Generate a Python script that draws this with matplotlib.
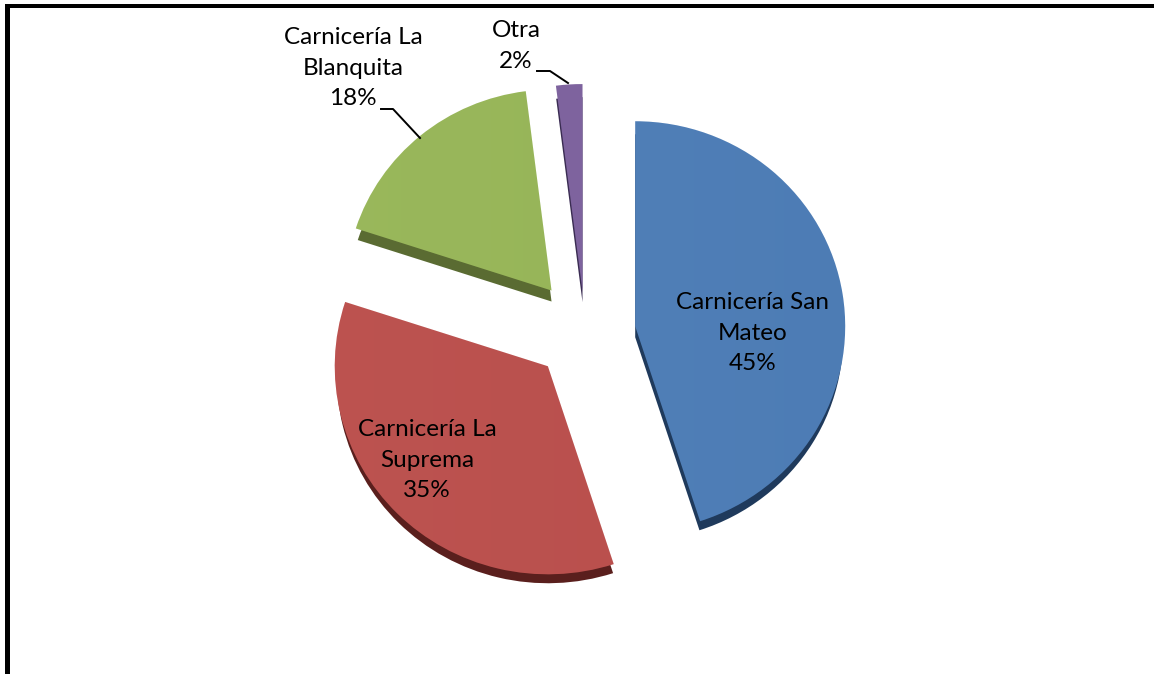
import matplotlib
matplotlib.use("Agg")
import matplotlib.pyplot as plt
import numpy as np

# slices go clockwise from 12 o'clock
categories = ["Carnicería San\nMateo", "Carnicería La\nSuprema", "Carnicería La\nBlanquita", "Otra"]
values = [45, 35, 18, 2]
explode = [0.242, 0.25, 0.25, 0.19]
colors = ["#4F81BD", "#C0504D", "#9BBB59", "#8064A2"]
side_colors = ["#1F3A5C", "#5A1F1D", "#5A6B32", "#3A2C52"]

W, H = 1154, 674
cx, cy = 585, 330      # pie centre in pixels
rx, ry = 210, 205      # pie is slightly squashed
depth = 11 / ry

# the original has perspective, so front slices look bigger than back ones
persp = [1.0, 1.015, 0.98, 1.01]
nudge = [-4 / ry, 0, 0, 0]

plt.rcParams["font.family"] = ["Lato", "DejaVu Sans"]

fig = plt.figure(figsize=(W / 100, H / 100), dpi=100, facecolor="white")
ax = fig.add_axes([0, 0, 1, 1])

# darker copy shifted down gives the 3d side
sides, _ = ax.pie(values, explode=explode, colors=side_colors, startangle=90, counterclock=False,
                  center=(0, -depth), radius=1, wedgeprops={"linewidth": 0})
wedges, _ = ax.pie(values, explode=explode, colors=colors, startangle=90, counterclock=False,
                   center=(0, 0), radius=1, wedgeprops={"linewidth": 0})
for w, s, p, n in zip(wedges, sides, persp, nudge):
    w.set_radius(p)
    s.set_radius(p * 0.99)
    w.set_center((w.center[0], w.center[1] + n))
    s.set_center((s.center[0], s.center[1] + n))

ax.set_aspect("auto")
ax.set_xlim(-cx / rx, (W - cx) / rx)
ax.set_ylim((cy - H) / ry, cy / ry)
ax.axis("off")

# soft shading on each top face, only ever darkens
grad = np.linspace(0.4, 1, 256).reshape(1, -1)
for w in wedges:
    im = ax.imshow(grad, extent=ax.get_xlim() + ax.get_ylim(), cmap="Greys", vmin=0, vmax=1, alpha=0.06,
                   aspect="auto", zorder=w.get_zorder() + 0.1)
    im.set_clip_path(w)
ax.set_xlim(-cx / rx, (W - cx) / rx)
ax.set_ylim((cy - H) / ry, cy / ry)


def to_data(px, py):
    return (px - cx) / rx, (cy - py) / ry


label_pos = [(753, 333), (427, 460), (353, 68), (516, 46)]
for name, v, (px, py) in zip(categories, values, label_pos):
    x, y = to_data(px, py)
    ax.text(x, y, f"{name}\n{v}%", ha="center", va="center", fontsize=17.5,
            color="black", linespacing=1.58, zorder=10)

# leader lines
leaders = [[(381, 109), (393, 109), (420, 138)], [(537, 71), (550, 71), (568, 83)]]
for pts in leaders:
    xy = np.array([to_data(*p) for p in pts])
    ax.plot(xy[:, 0], xy[:, 1], color="black", lw=1.4, zorder=10)

# page border, only left and top are in frame
fig.add_artist(plt.Rectangle((5 / W, 0), 5 / W, 1 - 4 / H, transform=fig.transFigure, color="black", lw=0))
fig.add_artist(plt.Rectangle((5 / W, 1 - 7.5 / H), 1, 3.5 / H, transform=fig.transFigure, color="black", lw=0))

fig.savefig("out.png", dpi=100, facecolor="white")
